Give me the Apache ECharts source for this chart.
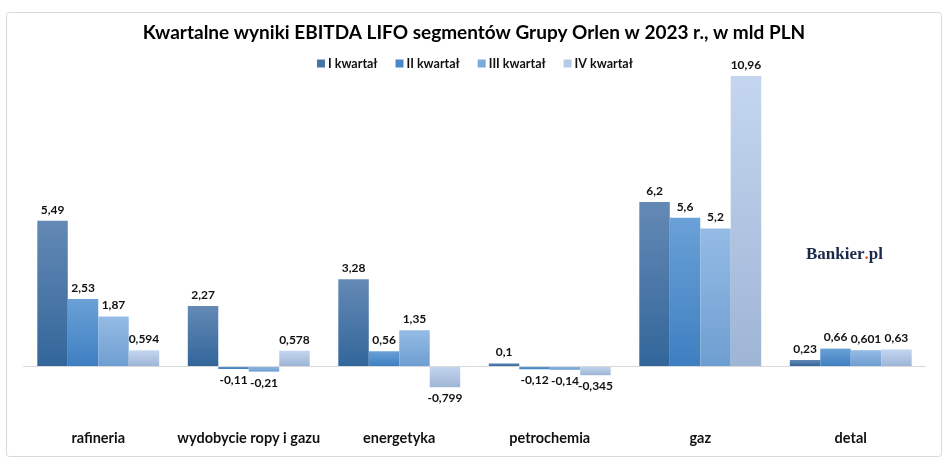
<!DOCTYPE html>
<html>
<head>
<meta charset="utf-8">
<script src="https://cdn.jsdelivr.net/npm/echarts@6/dist/echarts.min.js"></script>
<style>html,body{margin:0;padding:0;background:#fff;}#c{width:948px;height:460px;}</style>
</head>
<body>
<div id="c"></div>
<script>
var categories = ['rafineria', 'wydobycie ropy i gazu', 'energetyka', 'petrochemia', 'gaz', 'detal'];
var seriesNames = ['I kwartał', 'II kwartał', 'III kwartał', 'IV kwartał'];
var q1 = [5.49, 2.27, 3.28, 0.1, 6.2, 0.23];
var q2 = [2.53, -0.11, 0.56, -0.12, 5.6, 0.66];
var q3 = [1.87, -0.21, 1.35, -0.14, 5.2, 0.601];
var q4 = [0.594, 0.578, -0.799, -0.345, 10.96, 0.63];
var seriesValues = [q1, q2, q3, q4];
var colorsTop = ['#6489b5', '#6aa1d7', '#95bbe5', '#c4d6ef'];
var colorsBottom = ['#32669a', '#3e7fc1', '#6e9ed1', '#9fb5d6'];
var legendColors = ['#4676a8', '#4a8acb', '#7eaadb', '#b5cbe8'];

var FONT = 'Lato';
var chart = echarts.init(document.getElementById('c'));
var series = seriesValues.map(function (vals, i) {
  var s = {
    name: seriesNames[i],
    type: 'bar',
    barGap: '0%',
    barCategoryGap: '19%',
    itemStyle: {
      color: new echarts.graphic.LinearGradient(0, 0, 0, 1, [
        { offset: 0, color: colorsTop[i] },
        { offset: 1, color: colorsBottom[i] }
      ])
    },
    label: {
      show: true,
      distance: 5,
      color: '#111',
      fontFamily: FONT,
      fontWeight: 'bold',
      fontSize: 12,
      formatter: function (p) { return String(p.value).replace('.', ','); }
    },
    data: vals.map(function (v) {
      return { value: v, label: { position: v < 0 ? 'bottom' : 'top' } };
    })
  };
  if (i === 0) {
    s.markLine = {
      silent: true,
      symbol: 'none',
      label: { show: false },
      lineStyle: { color: '#d9d9d9', type: 'solid', width: 1 },
      data: [{ yAxis: 0 }]
    };
  }
  return s;
});

chart.setOption({
  animation: false,
  backgroundColor: '#fff',
  color: legendColors,
  title: {
    text: 'Kwartalne wyniki EBITDA LIFO segmentów Grupy Orlen w 2023 r., w mld PLN',
    left: 'center',
    top: 18,
    textStyle: { fontFamily: FONT, fontWeight: 'bold', fontSize: 19, color: '#000' }
  },
  legend: {
    top: 52,
    left: 312,
    itemWidth: 8,
    itemHeight: 8,
    itemGap: 18,
    icon: 'rect',
    textStyle: { fontFamily: FONT, fontWeight: 'bold', fontSize: 12.5, color: '#111', padding: [0, 0, 0, -2] },
    data: seriesNames.map(function (n, i) { return { name: n, itemStyle: { color: legendColors[i] } }; })
  },
  grid: { left: 23, right: 22, top: 48.5, bottom: 41 },
  xAxis: {
    type: 'category',
    data: categories,
    axisLine: { show: false, onZero: false },
    axisTick: { show: false },
    axisLabel: { interval: 0, margin: 12, color: '#111', fontFamily: FONT, fontWeight: 'bold', fontSize: 14.5 }
  },
  yAxis: {
    type: 'value',
    min: -2,
    max: 12,
    interval: 2,
    show: false,
    splitLine: { show: false }
  },
  graphic: [
    {
      type: 'rect',
      shape: { x: 6.5, y: 12.5, width: 935, height: 444, r: 3 },
      style: { fill: 'none', stroke: '#d9d9d9', lineWidth: 1 },
      z: -1
    },
    {
      type: 'text',
      left: 806,
      top: 246,
      style: {
        text: '{a|Bankier}{b|.}{a|pl}',
        rich: {
          a: { fontFamily: 'Liberation Serif', fontWeight: 'bold', fontSize: 17, fill: '#1c2a4a' },
          b: { fontFamily: 'Liberation Serif', fontWeight: 'bold', fontSize: 17, fill: '#e8501a' }
        }
      }
    }
  ],
  series: series
});
</script>
</body>
</html>
